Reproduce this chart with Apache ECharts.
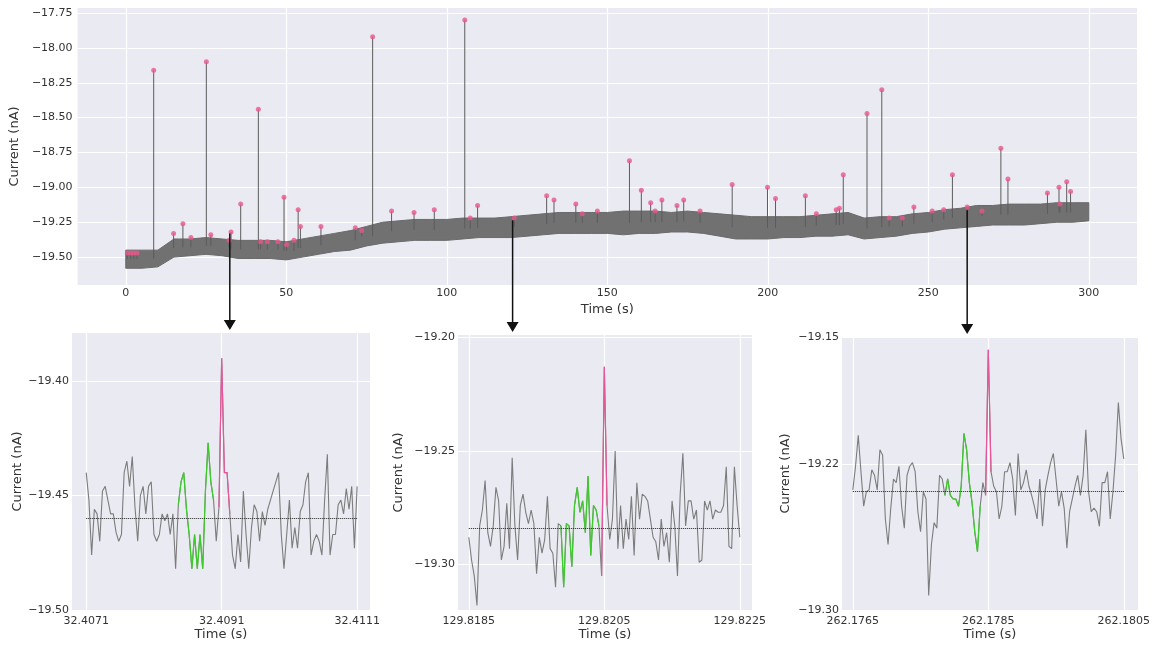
<!DOCTYPE html>
<html>
<head>
<meta charset="utf-8">
<title>Current trace</title>
<script src="https://cdn.jsdelivr.net/npm/echarts@6/dist/echarts.min.js"></script>
<style>
  html, body { margin: 0; padding: 0; background: #fff; }
  #main { width: 1163px; height: 645px; }
</style>
</head>
<body>
<div id="main"></div>
<script>
let log = console.log.bind(console)

// 主图: 信号带, 每 5 s 读一个上沿 / 下沿
const bandTimes = [0, 5, 10, 15, 20, 25, 30, 35, 40, 45, 50, 55, 60, 65, 70, 75, 80, 85, 90, 95,
  100, 105, 110, 115, 120, 125, 130, 135, 140, 145, 150, 155, 160, 165, 170, 175, 180, 185, 190, 195,
  200, 205, 210, 215, 220, 225, 230, 235, 240, 245, 250, 255, 260, 265, 270, 275, 280, 285, 290, 295, 300]
const bandHigh = [-19.45, -19.45, -19.45, -19.37, -19.37, -19.36, -19.37, -19.38, -19.38, -19.38,
  -19.39, -19.37, -19.35, -19.33, -19.31, -19.28, -19.25, -19.24, -19.23, -19.23,
  -19.23, -19.22, -19.22, -19.22, -19.21, -19.20, -19.19, -19.18, -19.18, -19.18,
  -19.18, -19.17, -19.17, -19.17, -19.18, -19.17, -19.18, -19.19, -19.20, -19.21,
  -19.21, -19.21, -19.21, -19.20, -19.19, -19.18, -19.22, -19.21, -19.21, -19.19,
  -19.18, -19.16, -19.15, -19.13, -19.13, -19.12, -19.12, -19.12, -19.11, -19.11, -19.11]
const bandLow = [-19.58, -19.58, -19.57, -19.50, -19.49, -19.48, -19.49, -19.51, -19.51, -19.51,
  -19.52, -19.50, -19.48, -19.46, -19.45, -19.42, -19.40, -19.39, -19.38, -19.38,
  -19.38, -19.37, -19.36, -19.36, -19.36, -19.35, -19.34, -19.33, -19.33, -19.33,
  -19.33, -19.34, -19.33, -19.33, -19.32, -19.32, -19.33, -19.35, -19.37, -19.37,
  -19.37, -19.36, -19.36, -19.35, -19.35, -19.34, -19.37, -19.36, -19.35, -19.33,
  -19.32, -19.30, -19.29, -19.28, -19.27, -19.27, -19.27, -19.26, -19.25, -19.25, -19.24]

// 事件 (尖峰) 的时间和峰值
const eventTimes = [0.5, 1.5, 2.5, 3.5, 8.7, 14.9, 17.8, 20.3, 25.1, 26.5, 32.2, 32.8, 35.8, 41.3, 42.0,
  44.1, 47.4, 49.3, 50.1, 52.4, 53.7, 54.4, 60.8, 71.5, 73.5, 76.9, 82.8, 89.8, 96.1, 105.6,
  107.3, 109.6, 121.0, 131.1, 133.4, 140.2, 142.2, 146.9, 156.9, 160.6, 163.5, 164.9, 167.0, 171.7, 173.8,
  178.9, 188.9, 199.9, 202.4, 211.7, 215.1, 221.3, 222.3, 223.5, 230.9, 235.5, 237.8, 241.9, 245.5, 251.2,
  254.8, 257.5, 262.1, 266.7, 272.6, 274.8, 287.1, 290.7, 291.0, 293.1, 294.3]
const eventPeaks = [-19.47, -19.47, -19.47, -19.47, -18.16, -19.33, -19.26, -19.36, -18.10, -19.34, -19.38, -19.32, -19.12, -18.44, -19.39,
  -19.39, -19.39, -19.07, -19.41, -19.38, -19.16, -19.28, -19.28, -19.29, -19.31, -17.92, -19.17, -19.18, -19.16, -17.80,
  -19.22, -19.13, -19.22, -19.06, -19.09, -19.12, -19.19, -19.17, -18.81, -19.02, -19.11, -19.17, -19.09, -19.13, -19.09,
  -19.17, -18.98, -19.00, -19.08, -19.06, -19.19, -19.16, -19.15, -18.91, -18.47, -18.30, -19.22, -19.22, -19.14, -19.17,
  -19.16, -18.91, -19.14, -19.17, -18.72, -18.94, -19.04, -19.00, -19.12, -18.96, -19.03]

// 主图刻度
const mainXTicks = [0, 50, 100, 150, 200, 250, 300]
const mainYTicks = [-19.5, -19.25, -19.0, -18.75, -18.5, -18.25, -18.0, -17.75]

// 三个放大图: 起始时间, 采样间隔, 电流值
const zoomStarts = [32.4071, 129.8185, 262.1765]
const sampleStep = 0.00004
const trace1 = [-19.440, -19.452, -19.476, -19.456, -19.458, -19.470, -19.448, -19.446, -19.452, -19.458,
  -19.458, -19.466, -19.470, -19.467, -19.440, -19.435, -19.446, -19.433, -19.455, -19.470,
  -19.450, -19.446, -19.458, -19.446, -19.444, -19.467, -19.470, -19.467, -19.458, -19.461,
  -19.458, -19.467, -19.458, -19.482, -19.454, -19.444, -19.440, -19.456, -19.467, -19.482,
  -19.467, -19.482, -19.467, -19.482, -19.448, -19.427, -19.444, -19.452, -19.470, -19.455,
  -19.390, -19.440, -19.440, -19.458, -19.476, -19.482, -19.467, -19.479, -19.448, -19.467,
  -19.482, -19.464, -19.454, -19.457, -19.470, -19.457, -19.463, -19.456, -19.452, -19.448,
  -19.444, -19.440, -19.467, -19.482, -19.467, -19.452, -19.473, -19.464, -19.473, -19.457,
  -19.454, -19.444, -19.440, -19.476, -19.470, -19.467, -19.470, -19.476, -19.452, -19.432,
  -19.476, -19.467, -19.467, -19.454, -19.452, -19.458, -19.447, -19.456, -19.446, -19.473,
  -19.446]
const trace2 = [-19.288, -19.298, -19.305, -19.318, -19.283, -19.276, -19.263, -19.286, -19.292, -19.283,
  -19.266, -19.272, -19.298, -19.292, -19.273, -19.293, -19.253, -19.283, -19.298, -19.274,
  -19.269, -19.277, -19.282, -19.276, -19.282, -19.304, -19.288, -19.295, -19.289, -19.270,
  -19.293, -19.295, -19.310, -19.282, -19.283, -19.310, -19.282, -19.283, -19.301, -19.274,
  -19.266, -19.277, -19.272, -19.286, -19.261, -19.296, -19.274, -19.276, -19.283, -19.305,
  -19.213, -19.274, -19.289, -19.280, -19.250, -19.293, -19.274, -19.293, -19.280, -19.289,
  -19.270, -19.296, -19.264, -19.280, -19.269, -19.270, -19.272, -19.280, -19.288, -19.290,
  -19.298, -19.280, -19.292, -19.286, -19.299, -19.272, -19.283, -19.305, -19.269, -19.251,
  -19.283, -19.272, -19.272, -19.280, -19.276, -19.299, -19.298, -19.272, -19.276, -19.272,
  -19.280, -19.276, -19.277, -19.277, -19.274, -19.257, -19.292, -19.293, -19.257, -19.274,
  -19.288]
const trace3 = [-19.234, -19.221, -19.204, -19.224, -19.243, -19.235, -19.234, -19.223, -19.226, -19.234,
  -19.212, -19.215, -19.250, -19.264, -19.244, -19.228, -19.230, -19.221, -19.243, -19.255,
  -19.226, -19.221, -19.219, -19.224, -19.246, -19.257, -19.235, -19.239, -19.292, -19.264,
  -19.252, -19.255, -19.226, -19.228, -19.237, -19.228, -19.237, -19.239, -19.239, -19.243,
  -19.232, -19.203, -19.212, -19.230, -19.241, -19.257, -19.268, -19.243, -19.230, -19.237,
  -19.157, -19.224, -19.232, -19.235, -19.250, -19.243, -19.224, -19.224, -19.219, -19.228,
  -19.248, -19.214, -19.234, -19.230, -19.223, -19.232, -19.237, -19.243, -19.250, -19.228,
  -19.254, -19.234, -19.226, -19.219, -19.214, -19.228, -19.243, -19.235, -19.244, -19.266,
  -19.246, -19.239, -19.232, -19.226, -19.237, -19.226, -19.201, -19.235, -19.246, -19.244,
  -19.246, -19.254, -19.230, -19.230, -19.224, -19.250, -19.235, -19.215, -19.186, -19.206,
  -19.217]
const traces = [trace1, trace2, trace3]
const baselines = [-19.460, -19.284, -19.2345]
// 绿色 / 粉色片段的下标范围
const greenIdx = [[34, 47], [34, 48], [34, 47]]
const pinkIdx = [[49, 53], [49, 51], [49, 51]]

// 放大图刻度
const zoomXTicks = [[32.4071, 32.4091, 32.4111], [129.8185, 129.8205, 129.8225], [262.1765, 262.1785, 262.1805]]
const zoomYTicks = [[-19.50, -19.45, -19.40], [-19.30, -19.25, -19.20], [-19.30, -19.22, -19.15]]

// 箭头: 主图上的起点
const arrowTimes = [32.409, 120.5, 262.1]
const arrowFrom = [-19.33, -19.236, -19.164]

const font = 'DejaVu Sans'
const textColor = '#333333'
const grey = '#7c7c7c'
const green = '#3ccc2a'
const pink = '#e8559a'
const minus = s => String(s).replace('-', '\u2212')

const zoomXRange = [[32.40689, 32.41129], [129.81834, 129.82268], [262.17634, 262.18071]]
const zoomYRange = [[-19.50, -19.379], [-19.32, -19.199], [-19.30, -19.15]]

let chart = echarts.init(document.getElementById('main'))

let grids = [
  {left: 73, top: 8, width: 1064, height: 277},
  {left: 72, top: 333, width: 298, height: 277},
  {left: 458, top: 335, width: 294, height: 275},
  {left: 842, top: 337, width: 296, height: 273},
].map(g => Object.assign({show: true, backgroundColor: '#eaeaf2', borderWidth: 0}, g))

let axis = function(extra) {
  return Object.assign({
    type: 'value',
    axisLine: {show: false},
    axisTick: {show: false},
    splitLine: {show: true, lineStyle: {color: '#ffffff', width: 1.2}},
    nameLocation: 'middle',
    nameTextStyle: {fontFamily: font, fontSize: 13, color: textColor},
  }, extra)
}

let labelStyle = (margin, fmt) => ({fontFamily: font, fontSize: 11, color: textColor, margin: margin, formatter: fmt})

let xAxes = [axis({
  gridIndex: 0, min: -15, max: 315, name: 'Time (s)', nameGap: 18,
  axisTick: {show: false, customValues: mainXTicks},
  axisLabel: Object.assign(labelStyle(3, v => String(v)), {customValues: mainXTicks}),
})]
let yAxes = [axis({
  gridIndex: 0, min: -19.70, max: -17.714, name: 'Current (nA)', nameGap: 45,
  axisTick: {show: false, customValues: mainYTicks},
  axisLabel: Object.assign(labelStyle(5, v => minus(v.toFixed(2))), {customValues: mainYTicks}),
})]
let yGaps = [47, 53, 50]
for (let k = 0; k < 3; k++) {
  xAxes.push(axis({
    gridIndex: k + 1, min: zoomXRange[k][0], max: zoomXRange[k][1], name: 'Time (s)', nameGap: 18,
    axisTick: {show: false, customValues: zoomXTicks[k]},
    axisLabel: Object.assign(labelStyle(6, v => v.toFixed(4)), {customValues: zoomXTicks[k]}),
  }))
  yAxes.push(axis({
    gridIndex: k + 1, min: zoomYRange[k][0], max: zoomYRange[k][1], name: 'Current (nA)', nameGap: yGaps[k],
    axisTick: {show: false, customValues: zoomYTicks[k]},
    axisLabel: Object.assign(labelStyle(3, v => minus(v.toFixed(2))), {customValues: zoomYTicks[k]}),
  }))
}

// 事件竖线从信号带中间开始
let eventBase = function(t) {
  let i = Math.round(t / 5)
  return (bandHigh[i] + bandLow[i]) / 2
}

let series = [
  {
    // 信号带: 一个多边形, 上沿往右, 下沿往左
    type: 'custom', xAxisIndex: 0, yAxisIndex: 0, clip: true, silent: true, z: 2,
    data: bandTimes.map((t, i) => [t, bandLow[i], bandHigh[i]]),
    encode: {x: 0, y: [1, 2]},
    renderItem: function(params, api) {
      if (params.dataIndex !== 0) {
        return null
      }
      let pts = []
      for (let i = 0; i < bandTimes.length; i++) {
        pts.push(api.coord([bandTimes[i], bandHigh[i]]))
      }
      for (let i = bandTimes.length - 1; i >= 0; i--) {
        pts.push(api.coord([bandTimes[i], bandLow[i]]))
      }
      return {
        type: 'polygon',
        shape: {points: pts},
        style: {fill: '#717171', stroke: '#6a6a6a', lineWidth: 1},
      }
    },
  },
  {
    type: 'custom', xAxisIndex: 0, yAxisIndex: 0, clip: true, silent: true, z: 3,
    data: eventTimes.map((t, i) => [t, eventBase(t), eventPeaks[i]]),
    encode: {x: 0, y: [1, 2]},
    renderItem: function(params, api) {
      let p0 = api.coord([api.value(0), api.value(1)])
      let p1 = api.coord([api.value(0), api.value(2)])
      return {
        type: 'line',
        shape: {x1: p0[0], y1: p0[1], x2: p1[0], y2: p1[1]},
        style: {stroke: '#5c5c5c', lineWidth: 1},
      }
    },
  },
  {
    type: 'scatter', xAxisIndex: 0, yAxisIndex: 0, symbolSize: 5, silent: true, z: 4,
    data: eventTimes.map((t, i) => [t, eventPeaks[i]]),
    itemStyle: {color: '#e8588c'},
  },
]

for (let k = 0; k < 3; k++) {
  let pts = traces[k].map((v, i) => [zoomStarts[k] + i * sampleStep, v])
  let last = pts[pts.length - 1][0]
  series.push({
    type: 'line', xAxisIndex: k + 1, yAxisIndex: k + 1, symbol: 'none', silent: true, z: 3,
    data: pts,
    lineStyle: {color: grey, width: 1.1},
    markLine: {
      silent: true, symbol: 'none', label: {show: false},
      lineStyle: {color: '#222222', type: 'dotted', width: 1},
      data: [[{coord: [zoomStarts[k], baselines[k]]}, {coord: [last, baselines[k]]}]],
    },
  })
  series.push({
    type: 'line', xAxisIndex: k + 1, yAxisIndex: k + 1, symbol: 'none', silent: true, z: 4,
    data: pts.slice(greenIdx[k][0], greenIdx[k][1] + 1),
    lineStyle: {color: green, width: 1.2},
  })
  series.push({
    type: 'line', xAxisIndex: k + 1, yAxisIndex: k + 1, symbol: 'none', silent: true, z: 4,
    data: pts.slice(pinkIdx[k][0], pinkIdx[k][1] + 1),
    lineStyle: {color: pink, width: 1.2},
  })
}

let option = {
  backgroundColor: '#ffffff',
  animation: false,
  grid: grids,
  xAxis: xAxes,
  yAxis: yAxes,
  series: series,
}
chart.setOption(option)

// 箭头: 从主图指向下面三个放大图
let graphics = []
for (let k = 0; k < 3; k++) {
  let p0 = chart.convertToPixel({gridIndex: 0}, [arrowTimes[k], arrowFrom[k]])
  let top = chart.convertToPixel({gridIndex: k + 1}, [zoomXRange[k][0], zoomYRange[k][1]])[1]
  let tip = top - 3
  let x = p0[0]
  graphics.push({
    type: 'line', z: 100,
    shape: {x1: x, y1: p0[1], x2: x, y2: tip - 8},
    style: {stroke: '#111111', lineWidth: 1.5},
  })
  graphics.push({
    type: 'polygon', z: 100,
    shape: {points: [[x - 6, tip - 10], [x + 6, tip - 10], [x, tip]]},
    style: {fill: '#111111'},
  })
}
chart.setOption({graphic: graphics})
</script>
</body>
</html>
